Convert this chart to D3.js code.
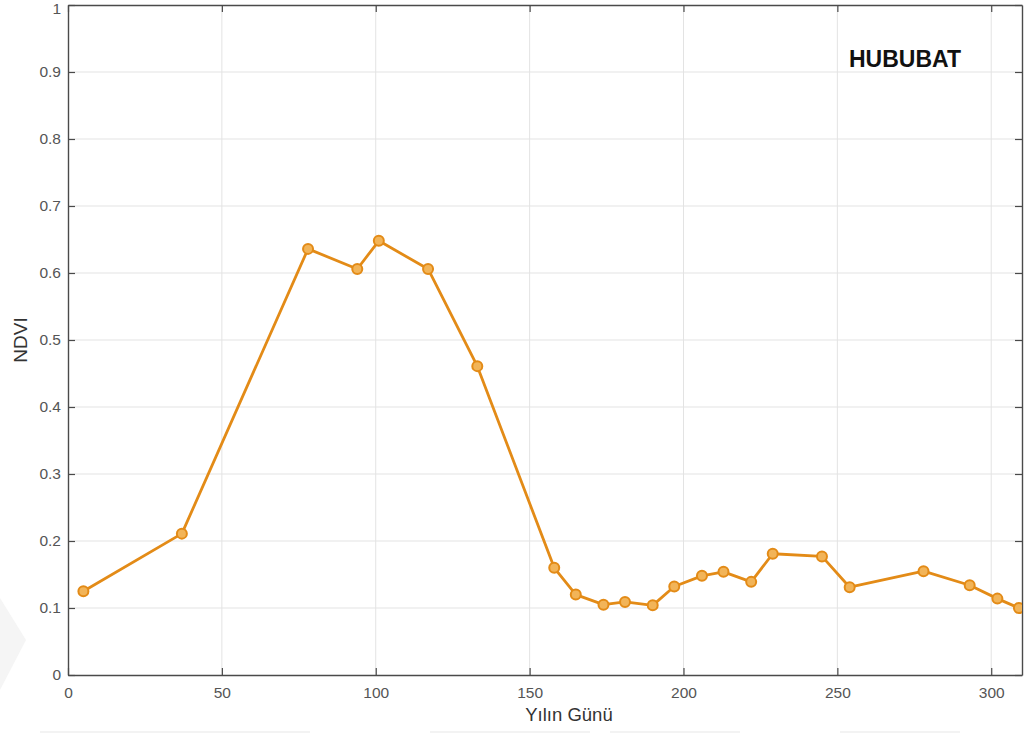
<!DOCTYPE html>
<html>
<head>
<meta charset="utf-8">
<script src="https://cdn.jsdelivr.net/npm/d3@7"></script>
<style>
  html, body { margin: 0; padding: 0; background: #fff; }
  svg { display: block; font-family: "Liberation Sans", Arial, sans-serif; }
</style>
</head>
<body>
<svg id="chart" width="1024" height="733"></svg>
<script>
// NDVI time series for the cereal (hububat) parcel, by day of year
const days = [5, 37, 78, 94, 101, 117, 133, 158, 165, 174, 181, 190, 197, 206, 213, 222, 229, 245, 254, 278, 293, 302, 309];
const ndvi = [0.125, 0.211, 0.636, 0.606, 0.648, 0.606, 0.461, 0.160, 0.120, 0.105, 0.109, 0.104, 0.132, 0.148, 0.154, 0.139, 0.181, 0.177, 0.131, 0.155, 0.134, 0.114, 0.100];
const xTicks = [0, 50, 100, 150, 200, 250, 300];
const yTicks = [0, 0.1, 0.2, 0.3, 0.4, 0.5, 0.6, 0.7, 0.8, 0.9, 1];
const title = "HUBUBAT";
const xLabel = "Yılın Günü";
const yLabel = "NDVI";

const svg = d3.select("#chart");
const L = 68, R = 1022, T = 5, B = 675;

const x = d3.scaleLinear().domain([0, 310]).range([L, R]);
const y = d3.scaleLinear().domain([0, 1]).range([B, T]);

// faint background shapes
svg.append("path")
  .attr("d", "M0,598 L26,640 L0,690 Z")
  .attr("fill", "#f5f5f5");
[[40, 310], [430, 590], [610, 740], [840, 960]].forEach(([a, b]) => {
  svg.append("rect").attr("x", a).attr("y", 731).attr("width", b - a).attr("height", 2).attr("fill", "#f3f3f3");
});

// grid
const grid = svg.append("g");
grid.selectAll(".gx").data(xTicks.slice(1)).join("line")
  .attr("x1", d => x(d)).attr("x2", d => x(d))
  .attr("y1", T).attr("y2", B)
  .attr("stroke", "#e3e3e3").attr("stroke-width", 1);
grid.selectAll(".gy").data(yTicks.slice(1, -1)).join("line")
  .attr("x1", L).attr("x2", R)
  .attr("y1", d => y(d)).attr("y2", d => y(d))
  .attr("stroke", "#e3e3e3").attr("stroke-width", 1);

// axes with inward ticks
const xAxis = svg.append("g").attr("transform", `translate(0,${B})`)
  .call(d3.axisBottom(x).tickValues(xTicks).tickSizeInner(-7).tickSizeOuter(0).tickPadding(12).tickFormat(d3.format("d")));
const yAxis = svg.append("g").attr("transform", `translate(${L},0)`)
  .call(d3.axisLeft(y).tickValues(yTicks).tickSizeInner(-7).tickSizeOuter(0).tickPadding(7).tickFormat(d => d === 0 || d === 1 ? d3.format("d")(d) : d3.format(".1f")(d)));
const xTop = svg.append("g").attr("transform", `translate(0,${T})`)
  .call(d3.axisTop(x).tickValues(xTicks).tickSizeInner(-7).tickSizeOuter(0).tickFormat(""));
const yRight = svg.append("g").attr("transform", `translate(${R},0)`)
  .call(d3.axisRight(y).tickValues(yTicks).tickSizeInner(-7).tickSizeOuter(0).tickFormat(""));

[xAxis, yAxis, xTop, yRight].forEach(g => {
  g.select(".domain").attr("stroke", "#4a4a4a").attr("stroke-width", 1.4);
  g.selectAll(".tick line").attr("stroke", "#4a4a4a").attr("stroke-width", 1.2);
  g.selectAll(".tick text").attr("fill", "#555").attr("font-size", 15.5);
});
// keep the top "1" label inside the frame
yAxis.selectAll(".tick text").filter(d => d === 1).attr("dy", "0.52em");

// series line
svg.append("clipPath").attr("id", "plotclip")
  .append("rect").attr("x", L).attr("y", T).attr("width", R - L).attr("height", B - T);
const line = d3.line().x((d, i) => x(days[i])).y(d => y(d));
svg.append("path")
  .datum(ndvi)
  .attr("clip-path", "url(#plotclip)")
  .attr("d", line)
  .attr("fill", "none")
  .attr("stroke", "#e38b17")
  .attr("stroke-width", 2.8)
  .attr("stroke-linejoin", "round");

svg.append("g").attr("clip-path", "url(#plotclip)")
  .selectAll("circle").data(ndvi).join("circle")
  .attr("cx", (d, i) => x(days[i]))
  .attr("cy", d => y(d))
  .attr("r", 5)
  .attr("fill", "#f2b458")
  .attr("stroke", "#e38b17")
  .attr("stroke-width", 2);

// labels
svg.append("text")
  .attr("x", 905).attr("y", 67)
  .attr("text-anchor", "middle")
  .attr("font-size", 23).attr("font-weight", "bold")
  .attr("fill", "#111")
  .text(title);

svg.append("text")
  .attr("x", 569).attr("y", 721)
  .attr("text-anchor", "middle")
  .attr("font-size", 18.5).attr("fill", "#333")
  .text(xLabel);

svg.append("text")
  .attr("transform", "translate(27,340) rotate(-90)")
  .attr("text-anchor", "middle")
  .attr("font-size", 19).attr("fill", "#333")
  .text(yLabel);
</script>
</body>
</html>
